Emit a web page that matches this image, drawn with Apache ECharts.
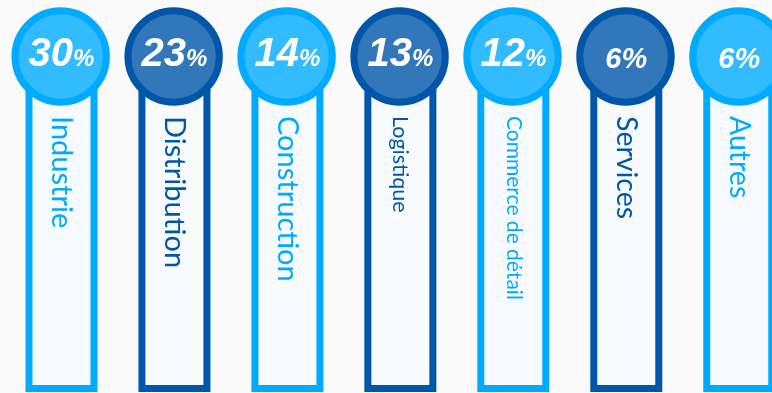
<!DOCTYPE html>
<html>
<head>
<meta charset="utf-8">
<script src="https://cdn.jsdelivr.net/npm/echarts@6/dist/echarts.min.js"></script>
<style>
html,body{margin:0;padding:0;background:#fafafa;}
#chart{width:772px;height:393px;}
</style>
</head>
<body>
<div id="chart"></div>
<script>
var categories = ['Industrie', 'Distribution', 'Construction', 'Logistique', 'Commerce de détail', 'Services', 'Autres'];
var shares = [30, 23, 14, 13, 12, 6, 6];

// styling (not data)
var labelSizes = [29, 29, 29, 21.5, 21, 28.5, 28.5];
var palette = [
  {ring: '#00aaff', inner: '#33bbff', text: '#00aaff'},
  {ring: '#0057aa', inner: '#3377bb', text: '#0057aa'}
];

var chart = echarts.init(document.getElementById('chart'), null, {renderer: 'canvas'});

chart.setOption({
  backgroundColor: '#fafafa',
  animation: false,
  grid: {left: 5, right: 0, top: 0, bottom: 0},
  xAxis: {type: 'value', min: -0.5, max: 6.29, show: false},
  yAxis: {type: 'value', min: 0, max: 100, show: false},
  series: [{
    type: 'custom',
    clip: false,
    data: shares.map(function (v, i) { return [i, v]; }),
    renderItem: function (params, api) {
      var i = api.value(0);
      var v = api.value(1);
      var cx = api.coord([i, 0])[0];
      var pal = palette[i % 2];
      var cy = 56.5;
      var big = {fontWeight: 'bold', fontStyle: 'italic', fontFamily: 'Liberation Sans', fill: '#fff', verticalAlign: 'bottom', lineHeight: 44};
      var rich = v >= 10
        ? {
            n: Object.assign({fontSize: 40}, big),
            p: Object.assign({fontSize: 24, padding: [0, 0, 3, 0]}, big)
          }
        : {
            n: Object.assign({fontSize: 29}, big),
            p: Object.assign({fontSize: 29}, big)
          };
      return {
        type: 'group',
        children: [
          {
            type: 'rect',
            shape: {x: cx - 32.5, y: cy, width: 65, height: 388.5 - cy},
            style: {fill: '#f7fbff', stroke: pal.ring, lineWidth: 7}
          },
          {
            type: 'circle',
            shape: {cx: cx - 0.8, cy: cy, r: 45.7},
            style: {fill: pal.inner, stroke: pal.ring, lineWidth: 7}
          },
          {
            type: 'text',
            x: cx, y: cy - 4,
            style: {
              text: '{n|' + v + '}{p|%}',
              rich: rich,
              align: 'center',
              verticalAlign: 'middle'
            }
          },
          {
            type: 'text',
            x: cx, y: 116,
            rotation: -Math.PI / 2,
            style: {
              text: categories[i],
              fontFamily: 'Lato',
              fontSize: labelSizes[i],
              fill: pal.text,
              align: 'left',
              verticalAlign: 'middle'
            }
          }
        ]
      };
    }
  }]
});
</script>
</body>
</html>
